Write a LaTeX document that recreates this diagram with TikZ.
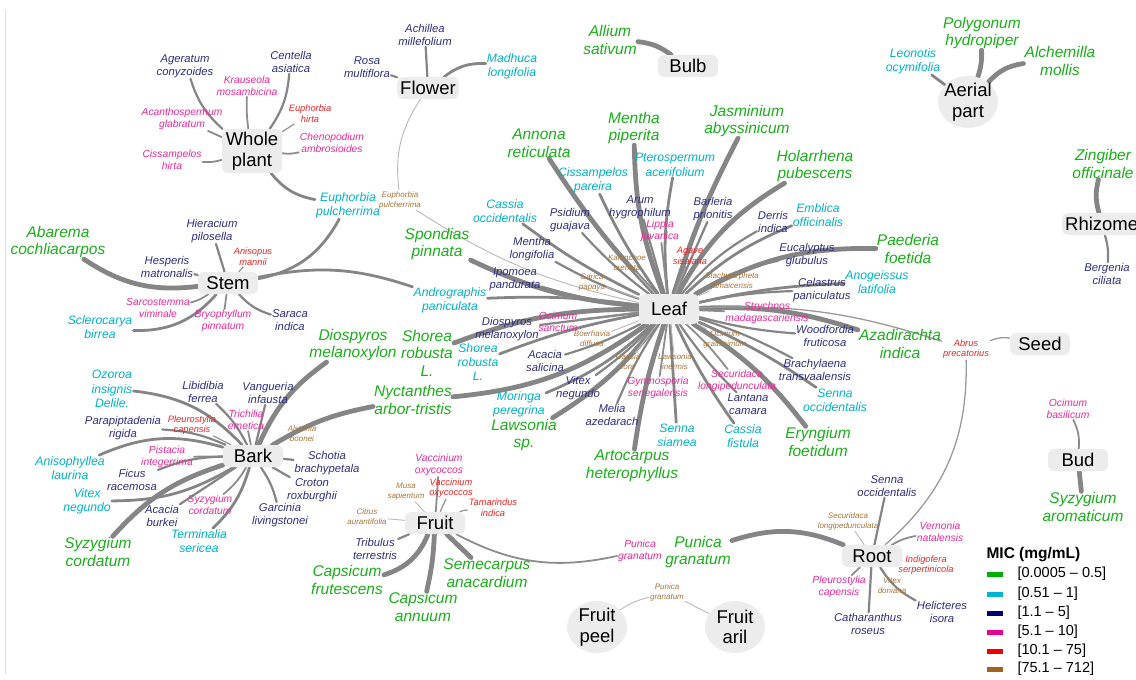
\documentclass[tikz,border=0pt]{standalone}
\usepackage{fontspec}
\setmainfont{Liberation Sans}
\usetikzlibrary{backgrounds,shapes.geometric}
\definecolor{cG}{RGB}{25,175,25}
\definecolor{cC}{RGB}{0,178,200}
\definecolor{cN}{RGB}{45,45,130}
\definecolor{cM}{RGB}{235,40,150}
\definecolor{cR}{RGB}{240,35,35}
\definecolor{cB}{RGB}{165,115,55}
\definecolor{lgG}{RGB}{0,175,0}
\definecolor{lgC}{RGB}{0,180,210}
\definecolor{lgN}{RGB}{0,0,110}
\definecolor{lgM}{RGB}{235,0,145}
\definecolor{lgR}{RGB}{240,0,0}
\definecolor{lgB}{RGB}{160,100,30}
\definecolor{hubgray}{RGB}{236,236,236}
\newcommand\lnk[4]{\draw[#1] (#2) to[bend left=#4] (#3);}
\begin{document}
\begin{tikzpicture}[x=1pt,y=-1pt,
  hub/.style={fill=hubgray, rounded corners=6pt, font=\fontsize{18.5}{20.5}\selectfont, inner xsep=3pt, inner ysep=3pt, minimum width=60pt, minimum height=22pt, align=center, text=black},
  hubc/.style={hub, shape=ellipse, inner sep=-4pt, minimum width=60pt, minimum height=52pt},
  lab/.style={align=center, inner sep=1pt},
  tG/.style={lab, text=cG, font=\fontsize{15.5}{17.5}\selectfont\itshape},
  tC/.style={lab, text=cC, font=\fontsize{12.2}{14.3}\selectfont\itshape},
  tN/.style={lab, text=cN, font=\fontsize{11.3}{13}\selectfont\itshape},
  tM/.style={lab, text=cM, font=\fontsize{10.3}{11.8}\selectfont\itshape},
  tR/.style={lab, text=cR, font=\fontsize{9.3}{10.7}\selectfont\itshape},
  tB/.style={lab, text=cB, font=\fontsize{8}{10}\selectfont\itshape},
  eG/.style={line width=4.8pt, draw=black!48, line cap=round},
  eC/.style={line width=2.8pt, draw=black!48, line cap=round},
  eN/.style={line width=2.2pt, draw=black!48, line cap=round},
  eM/.style={line width=1.8pt, draw=black!45, line cap=round},
  eR/.style={line width=1.3pt, draw=black!40},
  eB/.style={line width=0.9pt, draw=black!28},
  lgt/.style={anchor=west, font=\fontsize{14.5}{16}\selectfont}
]
\useasboundingbox (0,0) rectangle (1136,680);
\draw[black!12, line width=0.8pt] (5,10) -- (5,674);

% ---------- hubs ----------
\node[hub] (wp) at (252,151) {Whole\\plant};
\node[hub] (flower) at (428,88) {Flower};
\node[hub] (bulb) at (688,66) {Bulb};
\node[hubc] (aerial) at (968,102) {Aerial\\part};
\node[hub, anchor=west] (rhizome) at (1062,224) {Rhizome};
\node[hub] (stem) at (228,283) {Stem};
\node[hub, minimum height=30pt] (leaf) at (669,309) {Leaf};
\node[hub] (seed) at (1040,344) {Seed};
\node[hub] (bark) at (253,456) {Bark};
\node[hub] (fruit) at (435,523) {Fruit};
\node[hub] (bud) at (1078,460) {Bud};
\node[hub] (root) at (872,556) {Root};
\node[hubc] (peel) at (597,627) {Fruit\\peel};
\node[hubc] (aril) at (735,627) {Fruit\\aril};

% ---------- whole plant ----------
\node[tN] (ageratum) at (185,66) {Ageratum\\conyzoides};
\node[tM] (krauseola) at (247,86) {Krauseola\\mosambicina};
\node[tM] (acanth) at (182,119) {Acanthospermum\\glabratum};
\node[tM] (cisshirta) at (172,160) {Cissampelos\\hirta};
\node[tN] (centella) at (291,62) {Centella\\asiatica};
\node[tR] (euphhirta) at (310,114) {Euphorbia\\hirta};
\node[tM] (cheno) at (332,143) {Chenopodium\\ambrosioides};
\node[tC] (euphpulC) at (348,205) {Euphorbia\\pulcherrima};
% ---------- flower ----------
\node[tN] (achillea) at (425,35) {Achillea\\millefolium};
\node[tN] (rosa) at (367,67) {Rosa\\multiflora};
\node[tC] (madhuca) at (512,66) {Madhuca\\longifolia};
\node[tB] (euphpulB) at (400,200) {Euphorbia\\pulcherrima};
% ---------- bulb, aerial, rhizome ----------
\node[tG] (allium) at (610,40) {Allium\\sativum};
\node[tG] (polygonum) at (982,33) {Polygonum\\hydropiper};
\node[tG] (alchemilla) at (1060,61) {Alchemilla\\mollis};
\node[tC] (leonotis) at (913,61) {Leonotis\\ocymifolia};
\node[tG] (zingiber) at (1103,164) {Zingiber\\officinale};
\node[tN] (bergenia) at (1107,274) {Bergenia\\ciliata};
% ---------- stem ----------
\node[tG] (abarema) at (58,242) {Abarema\\cochliacarpos};
\node[tN] (hieracium) at (212,231) {Hieracium\\pilosella};
\node[tR] (anisopus) at (253,257) {Anisopus\\mannii};
\node[tN] (hesperis) at (167,267) {Hesperis\\matronalis};
\node[tM] (sarco) at (158,308) {Sarcostemma\\viminale};
\node[tC] (sclero) at (100,327) {Sclerocarya\\birrea};
\node[tM] (bryo) at (223,321) {Bryophyllum\\pinnatum};
\node[tN] (saraca) at (290,320) {Saraca\\indica};
% ---------- bark ----------
\node[tC] (ozoroa) at (112,389) {Ozoroa\\insignis\\Delile.};
\node[tN] (libidibia) at (203,392) {Libidibia\\ferrea};
\node[tN] (vangueria) at (268,393) {Vangueria\\infausta};
\node[tN] (parapip) at (123,428) {Parapiptadenia\\rigida};
\node[tR] (pleuroB) at (192,425) {Pleurostylia\\capensis};
\node[tM] (trichilia) at (246,420) {Trichilia\\emetica};
\node[tB] (alstonia) at (302,434) {Alstonia\\boonei};
\node[tM] (pistacia) at (167,457) {Pistacia\\integerrima};
\node[tC] (anisoph) at (70,468) {Anisophyllea\\laurina};
\node[tN] (ficus) at (132,480) {Ficus\\racemosa};
\node[tC] (vitexC) at (87,501) {Vitex\\negundo};
\node[tN] (acaciaB) at (162,516) {Acacia\\burkei};
\node[tM] (syzM) at (210,505) {Syzygium\\cordatum};
\node[tC] (terminalia) at (199,541) {Terminalia\\sericea};
\node[tG] (syzG) at (98,552) {Syzygium\\cordatum};
\node[tN] (garcinia) at (280,515) {Garcinia\\livingstonei};
\node[tN] (schotia) at (327,463) {Schotia\\brachypetala};
\node[tN] (croton) at (312,490) {Croton\\roxburghii};
\node[tG] (diospG) at (353,345) {Diospyros\\melanoxylon};
\node[tG] (nyct) at (413,400) {Nyctanthes\\arbor-tristis};
% ---------- fruit ----------
\node[tM] (vaccM) at (439,465) {Vaccinium\\oxycoccos};
\node[tR] (vaccR) at (451,488) {Vaccinium\\oxycoccos};
\node[tB] (musa) at (406,492) {Musa\\sapientum};
\node[tR] (tamarindus) at (493,508) {Tamarindus\\indica};
\node[tB] (citrus) at (367,517) {Citrus\\aurantifolia};
\node[tN] (tribulus) at (375,549) {Tribulus\\terrestris};
\node[tG] (capsF) at (347,580) {Capsicum\\frutescens};
\node[tG] (capsA) at (423,607) {Capsicum\\annuum};
\node[tG] (semecarpus) at (487,573) {Semecarpus\\anacardium};
\node[tM] (punM) at (640,551) {Punica\\granatum};
\node[tG] (punG) at (698,552) {Punica\\granatum};
\node[tB] (punB) at (667,592) {Punica\\granatum};
% ---------- root, seed, bud ----------
\node[tN] (sennaR) at (887,486) {Senna\\occidentalis};
\node[tB] (securB) at (848,521) {Securidaca\\longipedunculata};
\node[tM] (vernonia) at (940,532) {Vernonia\\natalensis};
\node[tR] (indigofera) at (926,565) {Indigofera\\serpertinicola};
\node[tB] (vitexdon) at (892,586) {Vitex\\doniana};
\node[tN] (helicteres) at (942,612) {Helicteres\\isora};
\node[tN] (catharanthus) at (868,624) {Catharanthus\\roseus};
\node[tM] (pleuroR) at (839,587) {Pleurostylia\\capensis};
\node[tR] (abrus) at (966,349) {Abrus\\precatorius};
\node[tM] (ocimumbas) at (1068,409) {Ocimum\\basilicum};
\node[tG] (syzArom) at (1083,507) {Syzygium\\aromaticum};
% ---------- leaf ----------
\node[tG] (annona) at (539,143) {Annona\\reticulata};
\node[tG] (menthaP) at (634,128) {Mentha\\piperita};
\node[tG] (jasmin) at (747,121) {Jasminium\\abyssinicum};
\node[tG] (holarr) at (815,166) {Holarrhena\\pubescens};
\node[tG] (spondias) at (437,244) {Spondias\\pinnata};
\node[tG] (paederia) at (908,249) {Paederia\\foetida};
\node[tG] (azadir) at (900,344) {Azadirachta\\indica};
\node[tG] (eryng) at (818,442) {Eryngium\\foetidum};
\node[tG] (artocarpus) at (632,466) {Artocarpus\\heterophyllus};
\node[tG] (lawsoniaSp) at (524,435) {Lawsonia\\sp.};
\node[tG] (shoreaG) at (427,353) {Shorea\\robusta\\L.};
\node[tC] (cisspar) at (593,180) {Cissampelos\\pareira};
\node[tC] (ptero) at (675,165) {Pterospermum\\acerifolium};
\node[tC] (cassiaOcc) at (505,211) {Cassia\\occidentalis};
\node[tC] (emblica) at (818,215) {Emblica\\officinalis};
\node[tC] (anogeissus) at (877,282) {Anogeissus\\latifolia};
\node[tC] (andro) at (450,300) {Andrographis\\paniculata};
\node[tC] (shoreaC) at (478,362) {Shorea\\robusta\\L.};
\node[tC] (moringa) at (519,404) {Moringa\\peregrina};
\node[tC] (sennaSiam) at (677,435) {Senna\\siamea};
\node[tC] (cassiaFis) at (743,436) {Cassia\\fistula};
\node[tC] (sennaOcc) at (835,400) {Senna\\occidentalis};
\node[tN] (psidium) at (570,220) {Psidium\\guajava};
\node[tN] (arum) at (640,207) {Arum\\hygrophilum};
\node[tN] (barleria) at (713,209) {Barleria\\prionitis};
\node[tN] (derris) at (773,222) {Derris\\indica};
\node[tN] (menthaL) at (532,249) {Mentha\\longifolia};
\node[tN] (ipomoea) at (515,279) {Ipomoea\\pandurata};
\node[tN] (eucalyptus) at (807,255) {Eucalyptus\\glubulus};
\node[tN] (celastrus) at (822,290) {Celastrus\\paniculatus};
\node[tN] (woodfordia) at (825,336) {Woodfordia\\fruticosa};
\node[tN] (diospN) at (507,329) {Diospyros\\melanoxylon};
\node[tN] (acaciaS) at (545,361) {Acacia\\salicina};
\node[tN] (vitexN) at (578,388) {Vitex\\negundo};
\node[tN] (melia) at (612,415) {Melia\\azedarach};
\node[tN] (brachy) at (815,370) {Brachylaena\\transvaalensis};
\node[tN] (lantana) at (748,404) {Lantana\\camara};
\node[tM] (lippia) at (660,231) {Lippia\\javanica};
\node[tM] (ocimumS) at (558,322) {Ocimum\\sanctum};
\node[tM] (strychnos) at (767,313) {Strychnos\\madagascariensis};
\node[tM] (gymno) at (658,388) {Gymnosporia\\senegalensis};
\node[tM] (securM) at (737,381) {Securidaca\\longipedunculata};
\node[tR] (agave) at (690,256) {Agave\\sisalana};
\node[tB] (kalanchoe) at (627,263) {Kalanchoe\\crenata};
\node[tB] (carica) at (592,282) {Carica\\papaya};
\node[tB] (stachy) at (732,281) {Stachytarpheta\\jamaicensis};
\node[tB] (boerhavia) at (592,339) {Boerhavia\\diffusa};
\node[tB] (ocimumG) at (725,339) {Ocimum\\gratissimum};
\node[tB] (cassiaTora) at (628,362) {Cassia\\tora};
\node[tB] (lawsoniaI) at (675,362) {Lawsonia\\inermis};

% ---------- legend ----------
\node[anchor=west, font=\fontsize{15.5}{17}\selectfont\bfseries] (lgT) at (983,555) {MIC (mg/mL)};
\fill[lgG] (987,571.5) rectangle (1003,576.5);
\fill[lgC] (987,591.5) rectangle (1003,596.5);
\fill[lgN] (987,610.5) rectangle (1003,615.5);
\fill[lgM] (987,629.5) rectangle (1003,634.5);
\fill[lgR] (987,648.5) rectangle (1003,653.5);
\fill[lgB] (987,666.5) rectangle (1003,671.5);
\node[lgt] (lg1) at (1014,574) {[0.0005 – 0.5]};
\node[lgt] (lg2) at (1014,594) {[0.51 – 1]};
\node[lgt] (lg3) at (1014,613) {[1.1 – 5]};
\node[lgt] (lg4) at (1014,632) {[5.1 – 10]};
\node[lgt] (lg5) at (1014,651) {[10.1 – 75]};
\node[lgt] (lg6) at (1014,669) {[75.1 – 712]};

% ---------- connectors ----------
\begin{pgfonlayer}{background}
% whole plant
\lnk{eN}{wp}{ageratum}{15}
\lnk{eM}{wp}{krauseola}{5}
\lnk{eM}{wp}{acanth}{0}
\lnk{eM}{wp}{cisshirta}{10}
\lnk{eN}{wp}{centella}{-15}
\lnk{eR}{wp}{euphhirta}{0}
\lnk{eM}{wp}{cheno}{-10}
\lnk{eC}{wp}{euphpulC}{-20}
% flower
\lnk{eN}{flower}{achillea}{0}
\lnk{eN}{flower}{rosa}{0}
\lnk{eC}{flower}{madhuca}{20}
\lnk{eB}{flower}{euphpulB}{-20}
% bulb, aerial, rhizome
\lnk{eG}{bulb}{allium}{-15}
\lnk{eG}{aerial}{polygonum}{-10}
\lnk{eG}{aerial}{alchemilla}{20}
\lnk{eC}{aerial}{leonotis}{0}
\lnk{eG}{rhizome}{zingiber}{15}
\lnk{eN}{rhizome}{bergenia}{10}
% stem
\lnk{eG}{stem}{abarema}{20}
\lnk{eN}{stem}{hieracium}{0}
\lnk{eR}{stem}{anisopus}{0}
\lnk{eN}{stem}{hesperis}{0}
\lnk{eM}{stem}{sarco}{10}
\lnk{eC}{stem}{sclero}{25}
\lnk{eM}{stem}{bryo}{0}
\lnk{eN}{stem}{saraca}{-15}
\lnk{eC}{stem}{euphpulC}{-25}
\lnk{eC}{stem}{andro}{15}
% bark
\lnk{eC}{bark}{ozoroa}{-20}
\lnk{eN}{bark}{libidibia}{-10}
\lnk{eN}{bark}{vangueria}{0}
\lnk{eN}{bark}{parapip}{-10}
\lnk{eR}{bark}{pleuroB}{0}
\lnk{eM}{bark}{trichilia}{0}
\lnk{eB}{bark}{alstonia}{10}
\lnk{eM}{bark}{pistacia}{0}
\lnk{eC}{bark}{anisoph}{-20}
\lnk{eN}{bark}{ficus}{-10}
\lnk{eC}{bark}{vitexC}{15}
\lnk{eN}{bark}{acaciaB}{0}
\lnk{eM}{bark}{syzM}{10}
\lnk{eC}{bark}{terminalia}{15}
\lnk{eG}{bark}{syzG}{-15}
\lnk{eN}{bark}{garcinia}{10}
\lnk{eN}{bark}{schotia}{0}
\lnk{eN}{bark}{croton}{0}
\lnk{eG}{bark}{diospG}{15}
\lnk{eG}{bark}{nyct}{10}
% fruit
\lnk{eM}{fruit}{vaccM}{0}
\lnk{eR}{fruit}{vaccR}{0}
\lnk{eB}{fruit}{musa}{0}
\lnk{eR}{fruit}{tamarindus}{10}
\lnk{eB}{fruit}{citrus}{0}
\lnk{eN}{fruit}{tribulus}{0}
\lnk{eG}{fruit}{capsF}{25}
\lnk{eG}{fruit}{capsA}{5}
\lnk{eG}{fruit}{semecarpus}{0}
\lnk{eM}{fruit}{punM}{-20}
\lnk{eB}{peel}{punB}{10}
\lnk{eB}{aril}{punB}{0}
% root, seed, bud
\lnk{eG}{root}{punG}{-20}
\lnk{eN}{root}{sennaR}{0}
\lnk{eB}{root}{securB}{0}
\lnk{eM}{root}{vernonia}{10}
\lnk{eR}{root}{indigofera}{0}
\lnk{eB}{root}{vitexdon}{0}
\lnk{eN}{root}{helicteres}{-15}
\lnk{eN}{root}{catharanthus}{0}
\lnk{eM}{root}{pleuroR}{0}
\lnk{eR}{root}{abrus}{-25}
\lnk{eR}{seed}{abrus}{-15}
\lnk{eM}{bud}{ocimumbas}{-15}
\lnk{eG}{bud}{syzArom}{0}
% leaf
\lnk{eG}{leaf}{annona}{5}
\lnk{eG}{leaf}{menthaP}{10}
\lnk{eG}{leaf}{jasmin}{5}
\lnk{eG}{leaf}{holarr}{15}
\lnk{eG}{leaf}{spondias}{10}
\lnk{eG}{leaf}{paederia}{15}
\lnk{eG}{leaf}{azadir}{10}
\lnk{eG}{leaf}{eryng}{10}
\lnk{eG}{leaf}{artocarpus}{-5}
\lnk{eG}{leaf}{lawsoniaSp}{10}
\lnk{eG}{leaf}{nyct}{15}
\lnk{eG}{leaf}{shoreaG}{-10}
\lnk{eC}{leaf}{cisspar}{5}
\lnk{eC}{leaf}{ptero}{8}
\lnk{eC}{leaf}{cassiaOcc}{5}
\lnk{eC}{leaf}{emblica}{10}
\lnk{eC}{leaf}{anogeissus}{5}
\lnk{eC}{leaf}{andro}{-5}
\lnk{eC}{leaf}{shoreaC}{-5}
\lnk{eC}{leaf}{moringa}{10}
\lnk{eC}{leaf}{sennaSiam}{0}
\lnk{eC}{leaf}{cassiaFis}{-5}
\lnk{eC}{leaf}{sennaOcc}{5}
\lnk{eN}{leaf}{psidium}{5}
\lnk{eN}{leaf}{arum}{0}
\lnk{eN}{leaf}{barleria}{0}
\lnk{eN}{leaf}{derris}{10}
\lnk{eN}{leaf}{menthaL}{5}
\lnk{eN}{leaf}{ipomoea}{5}
\lnk{eN}{leaf}{eucalyptus}{10}
\lnk{eN}{leaf}{celastrus}{5}
\lnk{eN}{leaf}{woodfordia}{-5}
\lnk{eN}{leaf}{diospN}{0}
\lnk{eN}{leaf}{acaciaS}{5}
\lnk{eN}{leaf}{vitexN}{5}
\lnk{eN}{leaf}{melia}{-5}
\lnk{eN}{leaf}{brachy}{5}
\lnk{eN}{leaf}{lantana}{-5}
\lnk{eM}{leaf}{lippia}{0}
\lnk{eM}{leaf}{ocimumS}{0}
\lnk{eM}{leaf}{strychnos}{0}
\lnk{eM}{leaf}{gymno}{0}
\lnk{eM}{leaf}{securM}{5}
\lnk{eR}{leaf}{agave}{0}
\lnk{eR}{leaf}{abrus}{10}
\lnk{eB}{leaf}{kalanchoe}{0}
\lnk{eB}{leaf}{carica}{0}
\lnk{eB}{leaf}{stachy}{0}
\lnk{eB}{leaf}{boerhavia}{0}
\lnk{eB}{leaf}{ocimumG}{0}
\lnk{eB}{leaf}{cassiaTora}{0}
\lnk{eB}{leaf}{lawsoniaI}{0}
\lnk{eB}{leaf}{euphpulB}{10}
\end{pgfonlayer}
\end{tikzpicture}
\end{document}
